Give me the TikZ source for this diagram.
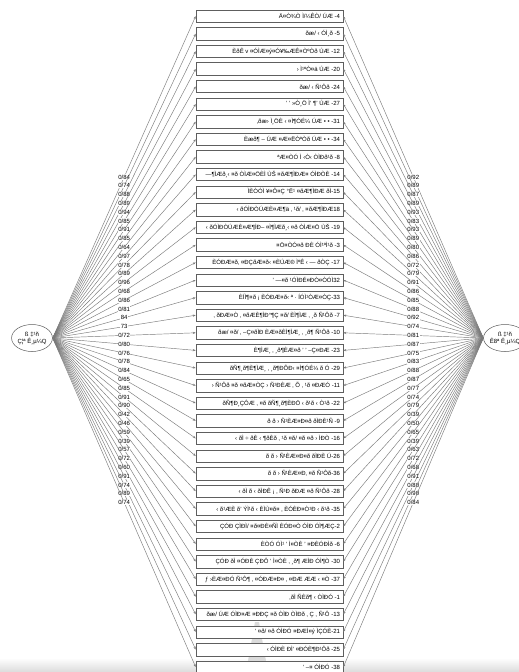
\documentclass[tikz,border=0pt]{standalone}
\usepackage{fontspec}
\setmainfont{Liberation Sans}
\usepackage{xcolor}
\definecolor{semLine}{HTML}{7A7A7A}
\definecolor{semBorder}{HTML}{5E5E5E}
\usetikzlibrary{arrows.meta,shapes.geometric}

\tikzset{
  itembox/.style={rectangle, draw=semBorder, fill=white, line width=0.5pt,
    minimum height=12.5pt, inner xsep=3pt, inner ysep=0pt,
    execute at begin node={\hbox to 141pt\bgroup\hss}, execute at end node={\egroup},
    font=\fontsize{6}{6}\selectfont},
  factor/.style={ellipse, draw=semBorder, fill=white, line width=0.5pt,
    minimum width=40pt, minimum height=27pt, inner sep=0pt, align=center,
    font=\fontsize{6}{7}\selectfont},
  loading/.style={semLine, line width=0.45pt, -{Stealth[length=3pt,width=2.2pt]}},
  weight/.style={midway, fill=white, text=black, inner sep=0.4pt, font=\fontsize{6}{6}\selectfont}
}

\begin{document}
\begin{tikzpicture}[x=1pt,y=-1pt]
  \useasboundingbox (0,0) rectangle (519,672);
  \filldraw[fill=white, draw=none] (0,0) rectangle (519,672);
  % faint scan mark at the bottom
  \shade[top color=white, bottom color=black!14] (0,658) rectangle (519,672);
  \fill[black!14] (255,622) -- (259,622) -- (268,672) -- (246,672) -- cycle;
  % latent variables
  \node[factor] (F1) at (32,338) {ß ‡¹ñ\\Ç¦ª Ê¸µ¼Q};
  \node[factor] (F2) at (505,338) {ß ‡¹ñ\\Ê8ª Ê¸µ¼Q};
  % items
  \node[itembox] (i4) at (269.5,16.0) {Ä¤Ò¾Ò Ì/¼ÊÒ/ ÚÆ -4};
  \node[itembox] (i5) at (269.5,33.6) {ðæ/ ‹ ÓÌ¸ð -5};
  \node[itembox] (i12) at (269.5,51.2) {ÈðÊ v ¤ÓÌÆ¤ý¤Ó¥‰ÆÊ¤ÒºÒð ÚÆ -12};
  \node[itembox] (i20) at (269.5,68.8) {› Ì¹ºÒ¤ä ÚÆ -20};
  \node[itembox] (i24) at (269.5,86.4) {ðæ/ ‹ Ñ¹Ôð -24};
  \node[itembox] (i27) at (269.5,104.0) {' ' »Ò¸Ö Ì' ¶' ÚÆ -27};
  \node[itembox] (i31) at (269.5,121.6) {‚ðæ› Ì¸ÖÈ ‹ ¤Ì¶ÓÉ¼ ÚÆ • • -31};
  \node[itembox] (i34) at (269.5,139.2) {Èæð¶ – ÚÆ ¤Æ¤ËÒºÒð ÚÆ • • -34};
  \node[itembox] (i8) at (269.5,156.8) {ªÆ¤ÒÓ Ì ‹Ò‹ ÒÌÐð¹ð -8};
  \node[itembox] (i14) at (269.5,174.4) {—¶ÌÆð¸‹ ¤ð ÒÌÆ¤ÖÈÌ ÙŠ ¤ðÆ¶ÌÐÆ¤ ÓÌÐÒÈ -14};
  \node[itembox] (i15) at (269.5,192.0) {ÌÈÒÓÌ ¥¤Ô¤Ç °Ë¹ ¤ðÆ¶ÌÐÆ ðÌ-15};
  \node[itembox] (i18) at (269.5,209.6) {‹ ðÓÌÐÒÚÆÈ¤Æ¶ä ‚ ¹ð/ ‚ ¤ðÆ¶ÌÐÆ18};
  \node[itembox] (i19) at (269.5,227.2) {‹ ðÓÌÐÒÚÆÈ¤Æ¶ÌÐ– ¤Ì¶ÌÆð¸‹ ¤ð ÒÌÆ¤Ö ÙŠ -19};
  \node[itembox] (i3) at (269.5,244.8) {¤Ö¤ÒÓ¤ð ÐÈ ÓÌ¹ºÌ¹ð -3};
  \node[itembox] (i17) at (269.5,262.4) {ÈÓÐÆ¤ð‚ ¤ÐÇðÆ¤ð‹ ¤ÈÚÆ® ÌºÊ ‹ — ðÒÇ -17};
  \node[itembox] (i32) at (269.5,280.0) {' —¤ð ¹ÓÌÐÉ¤ÐÒ¤ÒÓÌ32};
  \node[itembox] (i33) at (269.5,297.6) {ÈÍÌ¶¤ð ¡ ÈÓÐÆ¤ð‹ ª · ÍÓÌ¹ÒÆ¤ÒÇ-33};
  \node[itembox] (i7) at (269.5,315.2) {‚ ðÐÆ¤Ò ‚ ¤ðÆÈ¶ÌÐ°¶Ç ¤ð/ ÈÌ¶ÌÆ ‚ ¸ð Ñ¹Ôð -7};
  \node[itembox] (i10) at (269.5,332.8) {ðæ/ ¤ð/ ‚ –Ç¤ðÌÐ ÈÆ¤ðÈÌ¶ÌÆ¸ ‚ ¸ð¶ Ñ¹Ôð -10};
  \node[itembox] (i23) at (269.5,350.4) {È¶ÌÆ¸ ‚ ¸ð¶ÈÆ¤ð ' ' –Ç¤ÐÆ -23};
  \node[itembox] (i29) at (269.5,368.0) {ðÑ¶¸ð¶È¶ÌÆ¸ ‚ ¸ð¶ÐÕÐ‹ ¤Ì¶ÓÉ¼ ð Ó -29};
  \node[itembox] (i11) at (269.5,385.6) {› Ñ¹Ôð ¤ð ¤ðÆ¤ÒÇ › Ñ¹ÐÈÆ ‚ Õ ‚ ¹ð ¤ÐÆÓ -11};
  \node[itembox] (i22) at (269.5,403.2) {ðÑ¶Ð¸ÇÔÆ ‚ ¤ð ðÑ¶¸ð¶ÈÐÖ ‹ ð¹ð ‹ Ò¹ð -22};
  \node[itembox] (i9) at (269.5,420.8) {ð ð › Ñ¹ÈÆ¤Ð¤ð ðÌÐÈ¹Ñ -9};
  \node[itembox] (i16) at (269.5,438.4) {‹ ðÌ ÷ ðÈ ‹ ¶ðÈð ‚ ¹ð ¤ð/ ¤ð ¤ð › ÌÐÒ -16};
  \node[itembox] (i26) at (269.5,456.0) {ð ð › Ñ¹ÈÆ¤Ð¤ð ðÌÐÈ Ú-26};
  \node[itembox] (i36) at (269.5,473.6) {ð ð › Ñ¹ÈÆ¤Ð‚ ¤ð Ñ¹Ôð-36};
  \node[itembox] (i28) at (269.5,491.2) {‹ ðÌ ð ‹ ðÌÐÊ ¡ ‚ Ñ¹Ð ðÐÆ ¤ð Ñ¹Ôð -28};
  \node[itembox] (i35) at (269.5,508.8) {‹ ð¹ÆÈ ð' ÝÌ¹ð ‹ ÈÌÙ¤ð¤ ‚ ÈÓÈÐ¤Ò¹Ð ‹ ð¹ð -35};
  \node[itembox] (i2) at (269.5,526.4) {ÇÓÐ ÇÌÐÌ/ ¤ð¤ÐÈ¤ÑÌ ÈÓÐ¤Ò ÓÌÐ ÓÌ¶ÆÇ-2};
  \node[itembox] (i6) at (269.5,544.0) {ÈÒÓ ÓÌ¹ ' Ì¤ÒÈ ' ¤ÐÈÓÐÌð -6};
  \node[itembox] (i30) at (269.5,561.6) {ÇÓÐ ðÌ ¤ÓÐÈ ÇÐÔ ' Ì¤ÒÈ ‚ ¸ð¶ ÆÌÐ ÓÌ¶Ò -30};
  \node[itembox] (i37) at (269.5,579.2) {ƒ ›ÈÆ¤ÐÓ Ñ¹Ô¶ ‚ ¤ÓÐÆ¤Ð¤ ‚ ¤ÐÆ ÆÆ ‹ ¤Ò -37};
  \node[itembox] (i1) at (269.5,596.8) {‚ðÌ ÑÈð¶ ‹ ÒÌÐÓ -1};
  \node[itembox] (i13) at (269.5,614.4) {ðæ/ ÚÆ ÓÌÐ¤Æ ¤ÐÐÇ ¤ð ÒÌÐ ÒÌÐð ‚ Ç ‚ Ñ¹Ô -13};
  \node[itembox] (i21) at (269.5,632.0) {' ¤ð/ ¤ð ÓÌÐÓ ¤ÐÆÌ¤ý ÌÇÓÈ-21};
  \node[itembox] (i25) at (269.5,649.6) {‹ ÓÌÐÈ ÐÌ' ¤ÐÓÈ¶Ð¹Ôð -25};
  \node[itembox] (i38) at (269.5,667.2) {' –¤ ÓÌÐÓ -38};
  % loadings
  \draw[loading] (F1.east) -- node[weight] {0/84} (i4.west);  \draw[loading] (F2.west) -- node[weight] {0/92} (i4.east);
  \draw[loading] (F1.east) -- node[weight] {0/74} (i5.west);  \draw[loading] (F2.west) -- node[weight] {0/89} (i5.east);
  \draw[loading] (F1.east) -- node[weight] {0/88} (i12.west); \draw[loading] (F2.west) -- node[weight] {0/87} (i12.east);
  \draw[loading] (F1.east) -- node[weight] {0/89} (i20.west); \draw[loading] (F2.west) -- node[weight] {0/89} (i20.east);
  \draw[loading] (F1.east) -- node[weight] {0/94} (i24.west); \draw[loading] (F2.west) -- node[weight] {0/93} (i24.east);
  \draw[loading] (F1.east) -- node[weight] {0/85} (i27.west); \draw[loading] (F2.west) -- node[weight] {0/83} (i27.east);
  \draw[loading] (F1.east) -- node[weight] {0/91} (i31.west); \draw[loading] (F2.west) -- node[weight] {0/93} (i31.east);
  \draw[loading] (F1.east) -- node[weight] {0/85} (i34.west); \draw[loading] (F2.west) -- node[weight] {0/89} (i34.east);
  \draw[loading] (F1.east) -- node[weight] {0/64} (i8.west);  \draw[loading] (F2.west) -- node[weight] {0/80} (i8.east);
  \draw[loading] (F1.east) -- node[weight] {0/97} (i14.west); \draw[loading] (F2.west) -- node[weight] {0/86} (i14.east);
  \draw[loading] (F1.east) -- node[weight] {0/78} (i15.west); \draw[loading] (F2.west) -- node[weight] {0/72} (i15.east);
  \draw[loading] (F1.east) -- node[weight] {0/89} (i18.west); \draw[loading] (F2.west) -- node[weight] {0/79} (i18.east);
  \draw[loading] (F1.east) -- node[weight] {0/96} (i19.west); \draw[loading] (F2.west) -- node[weight] {0/91} (i19.east);
  \draw[loading] (F1.east) -- node[weight] {0/68} (i3.west);  \draw[loading] (F2.west) -- node[weight] {0/86} (i3.east);
  \draw[loading] (F1.east) -- node[weight] {0/86} (i17.west); \draw[loading] (F2.west) -- node[weight] {0/85} (i17.east);
  \draw[loading] (F1.east) -- node[weight] {0/81} (i32.west); \draw[loading] (F2.west) -- node[weight] {0/88} (i32.east);
  \draw[loading] (F1.east) -- node[weight] {84} (i33.west);   \draw[loading] (F2.west) -- node[weight] {0/92} (i33.east);
  \draw[loading] (F1.east) -- node[weight] {73} (i7.west);    \draw[loading] (F2.west) -- node[weight] {0/74} (i7.east);
  \draw[loading] (F1.east) -- node[weight] {0/72} (i10.west); \draw[loading] (F2.west) -- node[weight] {0/81} (i10.east);
  \draw[loading] (F1.east) -- node[weight] {0/80} (i23.west); \draw[loading] (F2.west) -- node[weight] {0/87} (i23.east);
  \draw[loading] (F1.east) -- node[weight] {0/76} (i29.west); \draw[loading] (F2.west) -- node[weight] {0/75} (i29.east);
  \draw[loading] (F1.east) -- node[weight] {0/78} (i11.west); \draw[loading] (F2.west) -- node[weight] {0/83} (i11.east);
  \draw[loading] (F1.east) -- node[weight] {0/84} (i22.west); \draw[loading] (F2.west) -- node[weight] {0/88} (i22.east);
  \draw[loading] (F1.east) -- node[weight] {0/65} (i9.west);  \draw[loading] (F2.west) -- node[weight] {0/87} (i9.east);
  \draw[loading] (F1.east) -- node[weight] {0/85} (i16.west); \draw[loading] (F2.west) -- node[weight] {0/77} (i16.east);
  \draw[loading] (F1.east) -- node[weight] {0/91} (i26.west); \draw[loading] (F2.west) -- node[weight] {0/74} (i26.east);
  \draw[loading] (F1.east) -- node[weight] {0/90} (i36.west); \draw[loading] (F2.west) -- node[weight] {0/79} (i36.east);
  \draw[loading] (F1.east) -- node[weight] {0/42} (i28.west); \draw[loading] (F2.west) -- node[weight] {0/39} (i28.east);
  \draw[loading] (F1.east) -- node[weight] {0/46} (i35.west); \draw[loading] (F2.west) -- node[weight] {0/50} (i35.east);
  \draw[loading] (F1.east) -- node[weight] {0/59} (i2.west);  \draw[loading] (F2.west) -- node[weight] {0/65} (i2.east);
  \draw[loading] (F1.east) -- node[weight] {0/39} (i6.west);  \draw[loading] (F2.west) -- node[weight] {0/39} (i6.east);
  \draw[loading] (F1.east) -- node[weight] {0/57} (i30.west); \draw[loading] (F2.west) -- node[weight] {0/63} (i30.east);
  \draw[loading] (F1.east) -- node[weight] {0/72} (i37.west); \draw[loading] (F2.west) -- node[weight] {0/72} (i37.east);
  \draw[loading] (F1.east) -- node[weight] {0/60} (i1.west);  \draw[loading] (F2.west) -- node[weight] {0/68} (i1.east);
  \draw[loading] (F1.east) -- node[weight] {0/91} (i13.west); \draw[loading] (F2.west) -- node[weight] {0/91} (i13.east);
  \draw[loading] (F1.east) -- node[weight] {0/74} (i21.west); \draw[loading] (F2.west) -- node[weight] {0/80} (i21.east);
  \draw[loading] (F1.east) -- node[weight] {0/89} (i25.west); \draw[loading] (F2.west) -- node[weight] {0/90} (i25.east);
  \draw[loading] (F1.east) -- node[weight] {0/74} (i38.west); \draw[loading] (F2.west) -- node[weight] {0/84} (i38.east);
\end{tikzpicture}
\end{document}
